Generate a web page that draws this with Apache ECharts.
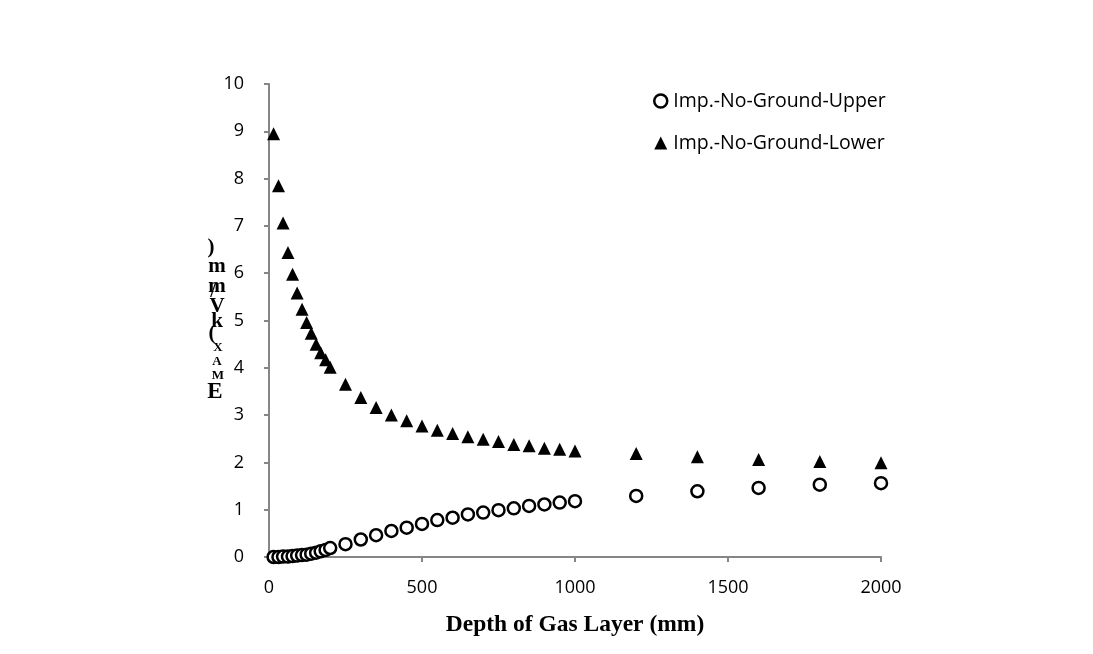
<!DOCTYPE html>
<html>
<head>
<meta charset="utf-8">
<script src="https://cdn.jsdelivr.net/npm/echarts@6/dist/echarts.min.js"></script>
<style>html,body{margin:0;padding:0;background:#fff;}#c{width:1093px;height:654px;}</style>
</head>
<body>
<div id="c"></div>
<script>
var depth = [15, 31, 46, 62, 77, 92, 108, 123, 138, 154, 169, 185, 200,
  250, 300, 350, 400, 450, 500, 550, 600, 650, 700, 750, 800, 850, 900, 950, 1000,
  1200, 1400, 1600, 1800, 2000];
var upper = [0.0, 0.0, 0.01, 0.01, 0.02, 0.03, 0.04, 0.05, 0.07, 0.09, 0.12, 0.15, 0.19,
  0.27, 0.37, 0.46, 0.55, 0.62, 0.70, 0.78, 0.83, 0.90, 0.94, 0.99, 1.03, 1.08, 1.11, 1.15, 1.18,
  1.29, 1.39, 1.46, 1.53, 1.56];
var lower = [8.95, 7.85, 7.06, 6.44, 5.98, 5.58, 5.24, 4.96, 4.73, 4.50, 4.32, 4.17, 4.01,
  3.65, 3.37, 3.16, 3.00, 2.88, 2.77, 2.68, 2.61, 2.54, 2.49, 2.44, 2.38, 2.35, 2.30, 2.28, 2.24,
  2.19, 2.12, 2.06, 2.02, 1.99];
var seriesNames = ['Imp.-No-Ground-Upper', 'Imp.-No-Ground-Lower'];
var xTitle = 'Depth of Gas Layer (mm)';
var yTitleChars = [')', 'm', 'm', '/', 'V', 'k', '(', 'X', 'A', 'M', 'E'];

function pairs(xs, ys) { return xs.map(function (x, i) { return [x, ys[i]]; }); }

var chart = echarts.init(document.getElementById('c'));
var axisGray = '#868686';
var labelFont = { fontFamily: 'Open Sans, Liberation Sans, sans-serif', fontSize: 18, color: '#000' };

var yPos = [[211,248],[217,267],[217,287],[213,292],[217,307],[217,322],[212,334],[218,348],[217,362],[218,376],[215,392]];
var ySizes = [21,21,21,19,21,21,21,13,13,13,23];
var graphics = yTitleChars.map(function (ch, i) {
  return {
    type: 'text', x: yPos[i][0], y: yPos[i][1],
    style: { text: ch, fontFamily: 'Liberation Serif, serif', fontWeight: 'bold',
      fontSize: ySizes[i], fill: '#000', textAlign: 'center', textVerticalAlign: 'middle' }
  };
});

chart.setOption({
  animation: false,
  backgroundColor: '#fff',
  grid: { left: 269, right: 212, top: 84, bottom: 97, containLabel: false },
  legend: {
    orient: 'vertical', left: 648, top: 86, itemGap: 22, itemWidth: 13, itemHeight: 13,
    textStyle: { fontFamily: 'Open Sans, Liberation Sans, sans-serif', fontSize: 19.5, color: '#000', padding: [0, 0, 0, 1] },
    data: [
      { name: seriesNames[0], icon: 'circle', itemStyle: { color: '#fff', borderColor: '#000', borderWidth: 2.5 } },
      { name: seriesNames[1], icon: 'triangle', itemStyle: { color: '#000' } }
    ]
  },
  xAxis: {
    type: 'value', min: 0, max: 2000, interval: 500,
    name: xTitle, nameLocation: 'middle', nameGap: 56,
    nameTextStyle: { fontFamily: 'Liberation Serif, serif', fontWeight: 'bold', fontSize: 23.5, color: '#000' },
    axisLine: { show: true, lineStyle: { color: axisGray, width: 2 } },
    axisTick: { show: true, length: 5, lineStyle: { color: axisGray, width: 2 } },
    axisLabel: Object.assign({ margin: 22, formatter: function (v) { return String(v); } }, labelFont),
    splitLine: { show: false }
  },
  yAxis: {
    type: 'value', min: 0, max: 10, interval: 1,
    axisLine: { show: true, lineStyle: { color: axisGray, width: 2 } },
    axisTick: { show: true, length: 5, lineStyle: { color: axisGray, width: 2 } },
    axisLabel: Object.assign({ margin: 25, formatter: function (v) { return String(v); } }, labelFont),
    splitLine: { show: false }
  },
  graphic: graphics,
  series: [
    {
      name: seriesNames[0], type: 'scatter', symbol: 'circle', symbolSize: 12,
      itemStyle: { color: '#fff', borderColor: '#000', borderWidth: 2.5, opacity: 1 },
      data: pairs(depth, upper)
    },
    {
      name: seriesNames[1], type: 'scatter', symbol: 'triangle', symbolSize: 13,
      itemStyle: { color: '#000', opacity: 1 },
      data: pairs(depth, lower)
    }
  ]
});
</script>
</body>
</html>
